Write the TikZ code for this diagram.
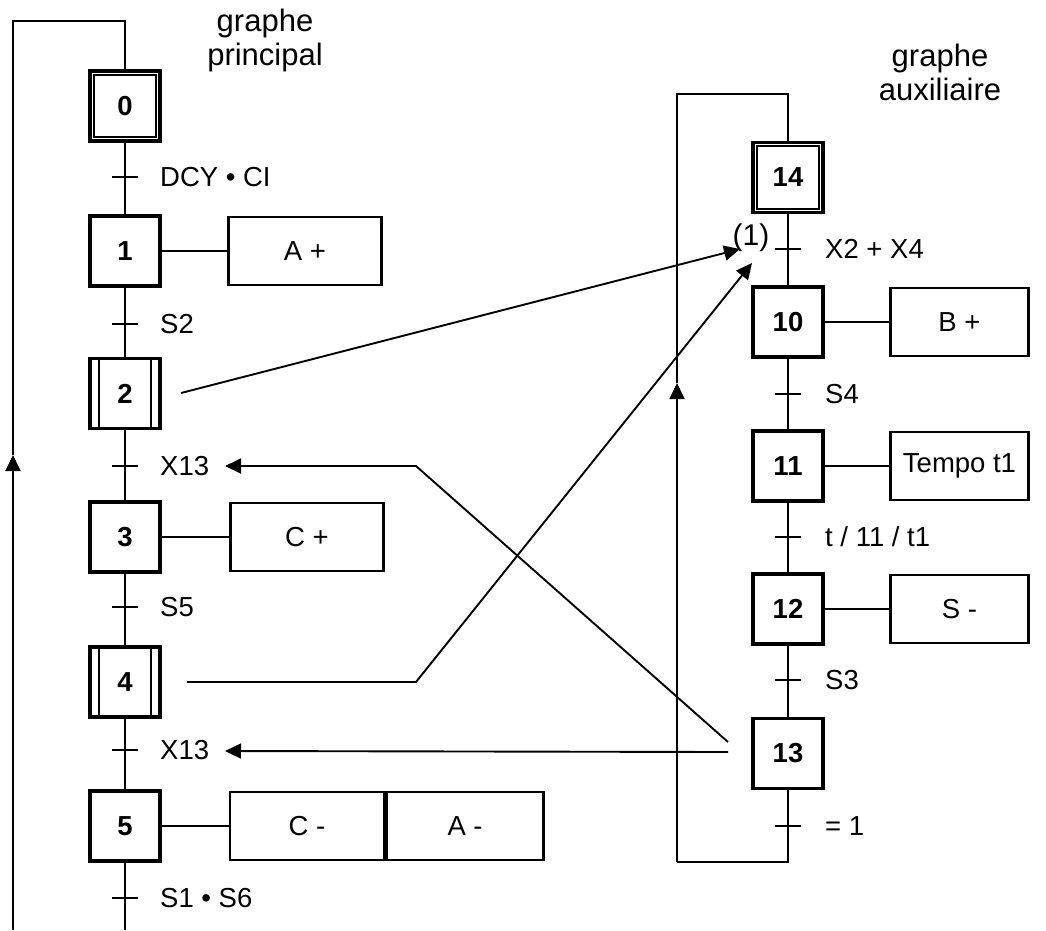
\documentclass[tikz,border=0pt]{standalone}
\usepackage{fontspec}
\setmainfont{Liberation Sans}
\usetikzlibrary{arrows.meta,calc}
\begin{document}
\begin{tikzpicture}[x=1pt,y=-1pt,
  etape/.style={draw, line width=3.2pt, minimum size=70pt, inner sep=0pt, font=\fontsize{27.5}{31}\selectfont\bfseries},
  action/.style={draw, line width=2.6pt, minimum height=68pt, inner sep=0pt, font=\fontsize{27.5}{31}\selectfont},
  lien/.style={line width=1.9pt},
  fine/.style={line width=2pt},
  tick/.style={line width=2.6pt},
  lab/.style={anchor=west, inner sep=0pt, font=\fontsize{27.5}{31}\selectfont},
  titre/.style={align=center, inner sep=0pt, font=\fontsize{31}{34}\selectfont},
  fl/.style={line width=1.9pt, -{Triangle[length=16pt,width=15pt]}}
]
\useasboundingbox (0,0) rectangle (1046,930);

% ---------- main graph ----------
\node[titre] (tp) at (265,40) {graphe\\principal};
\node[etape] (s0) at (125,106) {0};
\node[etape] (s1) at (125,251) {1};
\node[etape] (s2) at (125,393.5) {2};
\node[etape] (s3) at (125,537) {3};
\node[etape] (s4) at (125,682) {4};
\node[etape] (s5) at (125,826) {5};

\draw[fine] ([shift={(5.5pt,-5.5pt)}]s0.north west) rectangle ([shift={(-5.5pt,5.5pt)}]s0.south east);
\foreach \s in {s2,s4}{
  \draw[fine] ([xshift=11pt]\s.north west) -- ([xshift=11pt]\s.south west);
  \draw[fine] ([xshift=-11pt]\s.north east) -- ([xshift=-11pt]\s.south east);
}

\node[action, minimum width=153pt] (a1) at (305,251) {A +};
\node[action, minimum width=153pt] (a3) at (307,537) {C +};
\node[action, minimum width=154pt] (a5c) at (307,826) {C -};
\node[action, minimum width=157pt, anchor=west] (a5a) at (a5c.east) {A -};

\coordinate (bot) at (125,930);
\coordinate (lb) at (13,930);
\coordinate (lup) at (13,455);
\coordinate (ltl) at (13,21);
\coordinate (ltr) at (125,21);

\draw[lien] (s0) -- (s1) -- (s2) -- (s3) -- (s4) -- (s5) -- (bot);
\draw[fl] (lb) -- (lup);
\draw[lien] (lup) -- (ltl) -- (ltr) -- (s0);
\draw[lien] (s1) -- (a1);
\draw[lien] (s3) -- (a3);
\draw[lien] (s5) -- (a5c);

\foreach \n/\y/\t in {t0/177/{DCY • CI}, t1/324/S2, t2/466/X13, t3/607/S5, t4/750/X13, t5/898/{S1 • S6}}{
  \coordinate (\n) at (125,\y);
  \draw[tick] ([xshift=-13pt]\n) -- ([xshift=13pt]\n);
  \node[lab] (\n l) at ([xshift=35pt]\n) {\t};
}

% ---------- auxiliary graph ----------
\node[titre] (ta) at (940,72) {graphe\\auxiliaire};
\node[etape] (s14) at (788,177.5) {14};
\node[etape] (s10) at (788,322) {10};
\node[etape] (s11) at (788,466) {11};
\node[etape] (s12) at (788,609) {12};
\node[etape] (s13) at (788,753.5) {13};
\draw[fine] ([shift={(5.5pt,-5.5pt)}]s14.north west) rectangle ([shift={(-5.5pt,5.5pt)}]s14.south east);

\node[action, minimum width=138pt] (a10) at (959.5,322) {B +};
\node[action, minimum width=138pt] (a11) at (959.5,466) {Tempo t1};
\node[action, minimum width=138pt] (a12) at (959.5,609) {S -};

\coordinate (rb) at (788,862);
\coordinate (rbl) at (677,862);
\coordinate (rup) at (677,383);
\coordinate (rtl) at (677,94);
\coordinate (rtr) at (788,94);

\draw[lien] (s14) -- (s10) -- (s11) -- (s12) -- (s13) -- (rb) -- (rbl);
\draw[fl] (rbl) -- (rup);
\draw[lien] (rup) -- (rtl) -- (rtr) -- (s14);
\draw[lien] (s10) -- (a10);
\draw[lien] (s11) -- (a11);
\draw[lien] (s12) -- (a12);

\foreach \n/\y/\t in {t14/249/{X2 + X4}, t10/394/S4, t11/537/{t / 11 / t1}, t12/680/S3, t13/826/{= 1}}{
  \coordinate (\n) at (788,\y);
  \draw[tick] ([xshift=-13pt]\n) -- ([xshift=13pt]\n);
  \node[lab] (\n l) at ([xshift=37pt]\n) {\t};
}

\node[inner sep=0pt, font=\fontsize{30}{34}\selectfont] (un) at (751,238) {(1)};

% ---------- synchronisation links ----------
\coordinate (p2) at (181,393);
\coordinate (q1) at (740,249);
\draw[fl] (p2) -- (q1);

\coordinate (p4) at (187,682);
\coordinate (c4) at (416,682);
\coordinate (q2) at (752,263);
\draw[fl] (p4) -- (c4) -- (q2);

\coordinate (p13a) at (728,742);
\coordinate (c13) at (416,466);
\coordinate (r2) at (225,466);
\draw[fl] (p13a) -- (c13) -- (r2);

\coordinate (p13b) at (728,752);
\coordinate (r4) at (225,751);
\draw[fl] (p13b) -- (r4);
\end{tikzpicture}
\end{document}
